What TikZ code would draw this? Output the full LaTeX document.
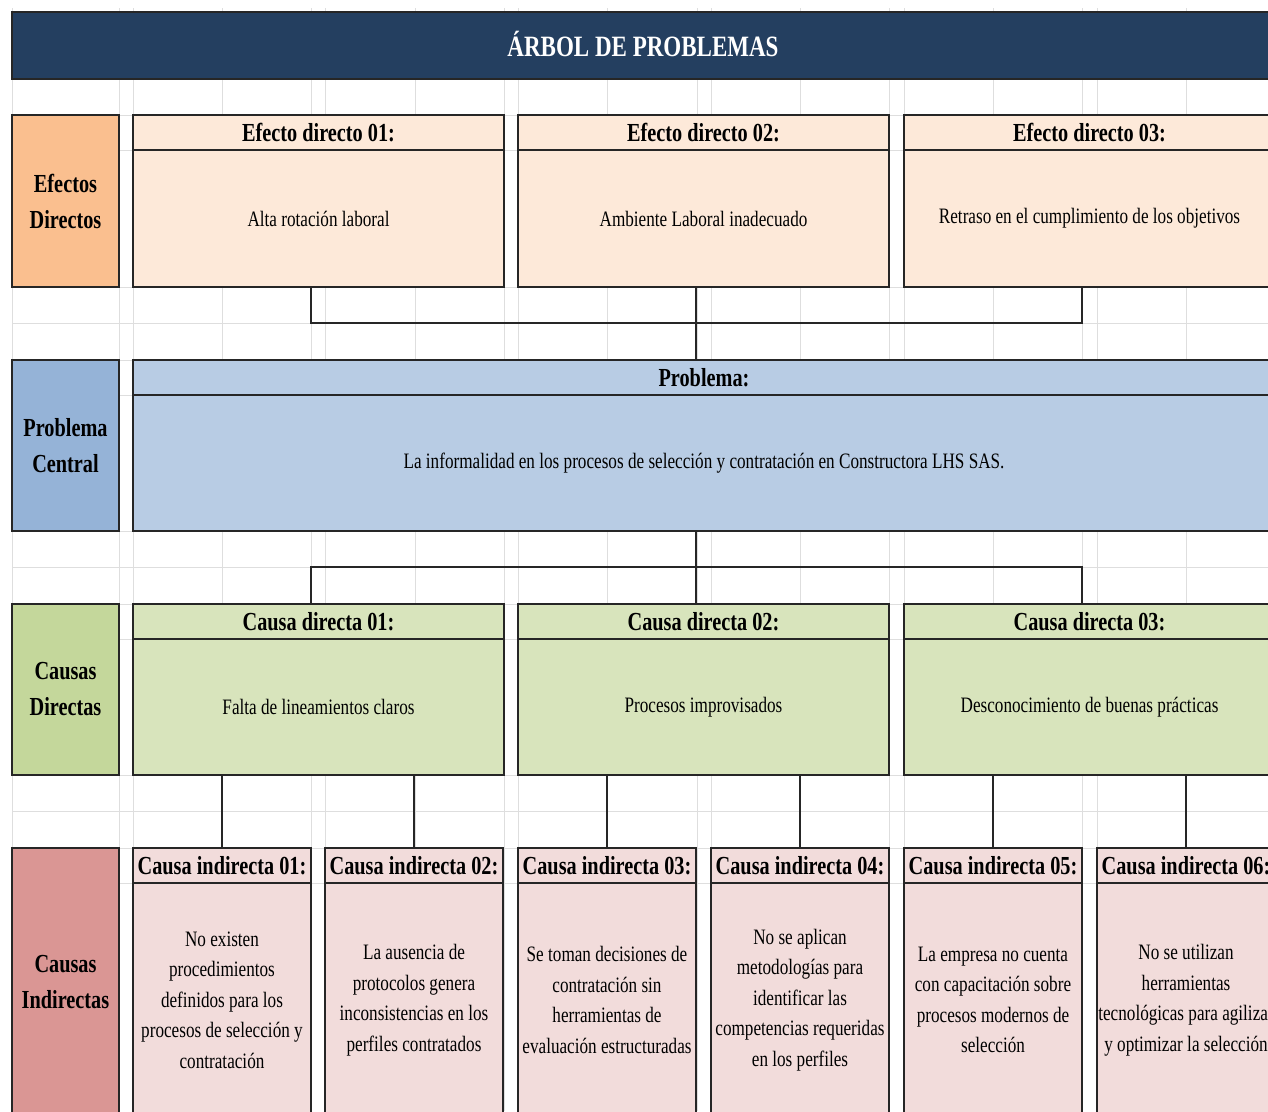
\documentclass[tikz,border=0pt]{standalone}
\usepackage{fontspec}
\setmainfont{Liberation Serif}[FakeStretch=0.78]

\definecolor{titleblue}{HTML}{243F60}
\definecolor{efectlab}{HTML}{FABF8F}
\definecolor{efectbox}{HTML}{FDE9D9}
\definecolor{problab}{HTML}{95B3D7}
\definecolor{probbox}{HTML}{B8CCE4}
\definecolor{causelab}{HTML}{C4D79B}
\definecolor{causebox}{HTML}{D8E4BC}
\definecolor{indlab}{HTML}{DA9694}
\definecolor{indbox}{HTML}{F2DCDB}
\definecolor{gridgray}{HTML}{DEDEDE}

\newcommand{\bigw}{371pt}
\newcommand{\smallw}{178pt}
\newcommand{\labw}{107pt}
\newcommand{\hdrh}{35pt}
\newcommand{\hdrfont}{\fontsize{26}{30}\selectfont\bfseries}
\newcommand{\txtfont}{\fontsize{22}{30.5}\selectfont}
\newcommand{\labfont}{\fontsize{26}{36}\selectfont\bfseries}

\begin{document}
\begin{tikzpicture}[x=1pt,y=-1pt,
  cell/.style={draw=black!85,line width=1.2pt,anchor=north west,inner sep=0pt,outer sep=0pt,align=center},
  hdr/.style={cell,minimum height=\hdrh,font=\hdrfont},
  txt/.style={cell,font=\txtfont},
  lab/.style={cell,minimum width=\labw,font=\labfont},
  link/.style={draw=black!85,line width=1.2pt},
  gridline/.style={gridgray,line width=0.8pt}]

\useasboundingbox (0,0) rectangle (1268,1111);
\clip (0,0) rectangle (1268,1111);

% Sheet grid
\foreach \x in {12,119,133,222,311,325,415,504,518,607,697,711,800,889,904,993,1082,1097,1186}
  \draw[gridline] (\x,8) -- (\x,1111);
\foreach \y in {79,115,150,287,323,360,395,531,567,604,639,775,811,848,883}
  \draw[gridline] (12,\y) -- (1268,\y);

% Title
\node (title) [cell,fill=titleblue,minimum width=1262pt,minimum height=67pt,text=white,font=\fontsize{29.5}{32}\selectfont\bfseries] at (12,12) {\raisebox{3pt}{ÁRBOL DE PROBLEMAS}};

% Row labels
\node (labED) [lab,fill=efectlab,minimum height=172pt] at (12,115) {Efectos\\Directos};
\node (labPC) [lab,fill=problab,minimum height=171pt] at (12,360) {Problema\\Central};
\node (labCD) [lab,fill=causelab,minimum height=171pt] at (12,604) {Causas\\Directas};
\node (labCI) [lab,fill=indlab,minimum height=269pt] at (12,848) {Causas\\Indirectas};

% Efectos directos
\node (ed1h) [hdr,fill=efectbox,minimum width=\bigw] at (133,115) {Efecto directo 01:};
\node (ed1) [txt,fill=efectbox,minimum width=\bigw,minimum height=137pt] at (133,150) {Alta rotación laboral};
\node (ed2h) [hdr,fill=efectbox,minimum width=\bigw] at (518,115) {Efecto directo 02:};
\node (ed2) [txt,fill=efectbox,minimum width=\bigw,minimum height=137pt] at (518,150) {Ambiente Laboral inadecuado};
\node (ed3h) [hdr,fill=efectbox,minimum width=\bigw] at (904,115) {Efecto directo 03:};
\node (ed3) [txt,fill=efectbox,minimum width=\bigw,minimum height=137pt] at (904,150) {Retraso en el cumplimiento de los objetivos};

% Problema central
\node (pbh) [hdr,fill=probbox,minimum width=1142pt] at (133,360) {Problema:};
\node (pb) [txt,fill=probbox,minimum width=1142pt,minimum height=136pt] at (133,395) {La informalidad en los procesos de selección y contratación en Constructora LHS SAS.};

% Causas directas
\node (cd1h) [hdr,fill=causebox,minimum width=\bigw] at (133,604) {Causa directa 01:};
\node (cd1) [txt,fill=causebox,minimum width=\bigw,minimum height=136pt] at (133,639) {Falta de lineamientos claros};
\node (cd2h) [hdr,fill=causebox,minimum width=\bigw] at (518,604) {Causa directa 02:};
\node (cd2) [txt,fill=causebox,minimum width=\bigw,minimum height=136pt] at (518,639) {Procesos improvisados};
\node (cd3h) [hdr,fill=causebox,minimum width=\bigw] at (904,604) {Causa directa 03:};
\node (cd3) [txt,fill=causebox,minimum width=\bigw,minimum height=136pt] at (904,639) {Desconocimiento de buenas prácticas};

% Causas indirectas
\node (ci1h) [hdr,fill=indbox,minimum width=\smallw] at (133,848) {Causa indirecta 01:};
\node (ci1) [txt,fill=indbox,minimum width=\smallw,minimum height=234pt] at (133,883) {No existen\\procedimientos\\definidos para los\\procesos de selección y\\contratación};
\node (ci2h) [hdr,fill=indbox,minimum width=\smallw] at (325,848) {Causa indirecta 02:};
\node (ci2) [txt,fill=indbox,minimum width=\smallw,minimum height=234pt] at (325,883) {La ausencia de\\protocolos genera\\inconsistencias en los\\perfiles contratados};
\node (ci3h) [hdr,fill=indbox,minimum width=\smallw] at (518,848) {Causa indirecta 03:};
\node (ci3) [txt,fill=indbox,minimum width=\smallw,minimum height=234pt] at (518,883) {Se toman decisiones de\\contratación sin\\herramientas de\\evaluación estructuradas};
\node (ci4h) [hdr,fill=indbox,minimum width=\smallw] at (711,848) {Causa indirecta 04:};
\node (ci4) [txt,fill=indbox,minimum width=\smallw,minimum height=234pt] at (711,883) {No se aplican\\metodologías para\\identificar las\\competencias requeridas\\en los perfiles};
\node (ci5h) [hdr,fill=indbox,minimum width=\smallw] at (904,848) {Causa indirecta 05:};
\node (ci5) [txt,fill=indbox,minimum width=\smallw,minimum height=234pt] at (904,883) {La empresa no cuenta\\con capacitación sobre\\procesos modernos de\\selección};
\node (ci6h) [hdr,fill=indbox,minimum width=\smallw] at (1097,848) {Causa indirecta 06:};
\node (ci6) [txt,fill=indbox,minimum width=\smallw,minimum height=234pt] at (1097,883) {No se utilizan\\herramientas\\tecnológicas para agilizar\\y optimizar la selección};

% Connectors
\coordinate (ej) at (697,323);
\coordinate (cj) at (697,567);
\draw[link] (ed1.south -| ci1h.east) |- (ej) -| (ed3.south -| ci5h.east);
\draw[link] (ed2.south -| ci3h.east) -- (pbh.north -| ci3h.east);
\draw[link] (pb.south -| ci3h.east) -- (cd2h.north -| ci3h.east);
\draw[link] (cd1h.north -| ci1h.east) |- (cj) -| (cd3h.north -| ci5h.east);
\foreach \c/\i in {cd1/ci1h,cd1/ci2h,cd2/ci3h,cd2/ci4h,cd3/ci5h,cd3/ci6h}
  \draw[link] (\c.south -| \i.north) -- (\i.north);

\end{tikzpicture}
\end{document}
